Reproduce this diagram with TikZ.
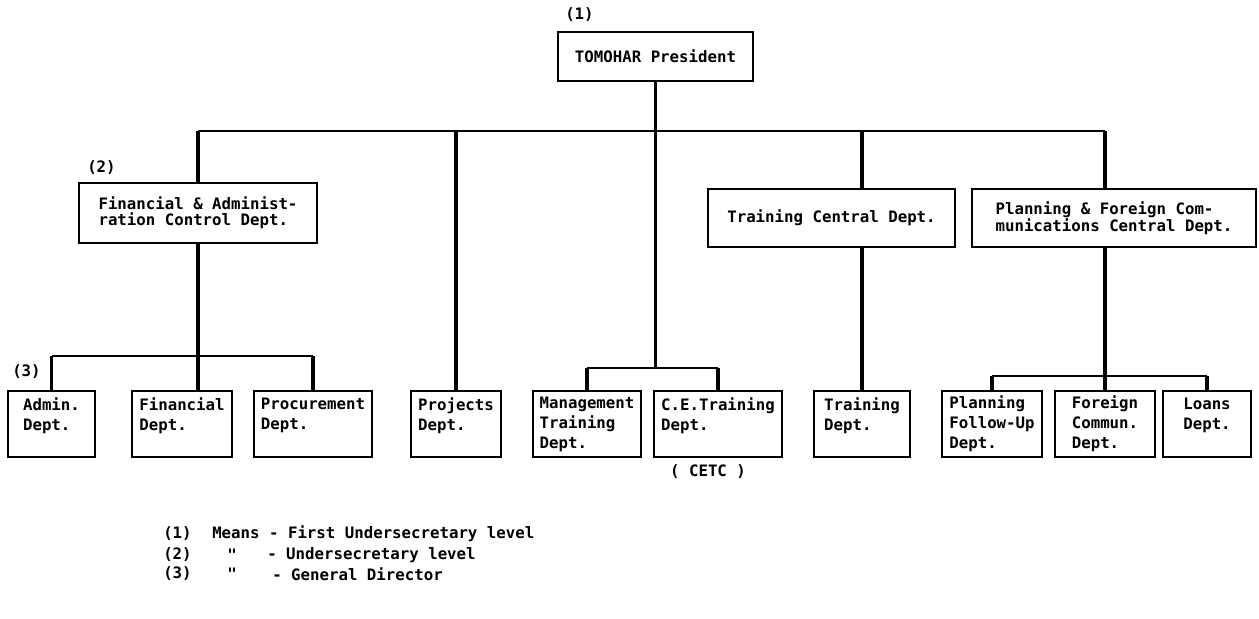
\documentclass[tikz,border=0pt]{standalone}
\usepackage{fontspec}
\newfontfamily\typerfont{DejaVu Sans Mono}
\tikzset{
  dept/.style={draw, line width=1.4pt, fill=white, inner sep=2pt, align=left,
    font=\typerfont\bfseries\fontsize{11.8}{12}\selectfont},
  unit/.style={dept, minimum height=49.5pt,
    font=\typerfont\bfseries\fontsize{11.8}{15}\selectfont},
  lvl/.style={anchor=west, inner sep=0pt, font=\typerfont\bfseries\fontsize{11.8}{12}\selectfont},
  link/.style={line width=2.4pt},
  bus/.style={line width=1.3pt},
}
\begin{document}
\begin{tikzpicture}[x=0.75pt,y=0.75pt,yscale=-1,xscale=1]
\useasboundingbox (0,0) rectangle (1259,618);
% upper levels
\draw (655.5,56.5) node [dept, minimum width=146.25pt, minimum height=36.75pt] (pres) {TOMOHAR President};
\draw (198,213) node [dept, minimum width=178.5pt, minimum height=45pt] (fin) {Financial \& Administ-\\ration Control Dept.};
\draw (831.5,218) node [dept, minimum width=185.25pt, minimum height=43.5pt] (trc) {Training Central Dept.};
\draw (1114,218) node [dept, minimum width=213pt, minimum height=43.5pt] (plc) {Planning \& Foreign Com-\\munications Central Dept.};
% departments
\draw (51.5,424) node [unit, minimum width=65.25pt] (admin) {Admin.\\Dept.\\\mbox{}};
\draw (182,424) node [unit, minimum width=75pt] (findept) {Financial\\Dept.\\\mbox{}};
\draw (313,424) node [unit, minimum width=88.5pt] (procure) {Procurement\\Dept.\\\mbox{}};
\draw (456,424) node [unit, minimum width=67.5pt] (proj) {Projects\\Dept.\\\mbox{}};
\draw (587,424) node [unit, minimum width=81pt] (mgmt) {Management\\Training\\Dept.};
\draw (718,424) node [unit, minimum width=96pt] (ce) {C.E.Training\\Dept.\\\mbox{}};
\draw (862,424) node [unit, minimum width=72pt] (trdept) {Training\\Dept.\\\mbox{}};
\draw (992,424) node [unit, minimum width=75pt] (plfu) {Planning\\Follow-Up\\Dept.};
\draw (1105,424) node [unit, minimum width=75pt] (foreign) {Foreign\\Commun.\\Dept.};
\draw (1207,424) node [unit, minimum width=66pt] (loans) {Loans\\Dept.\\\mbox{}};
% level marks
\draw (565,15) node [lvl] (m1) {(1)};
\draw (87,168) node [lvl] (m2) {(2)};
\draw (12,372) node [lvl] (m3) {(3)};
\draw (708,472) node [lvl, anchor=center] (cetc) {( CETC )};
% connectors
\coordinate (topbus) at (655.5,131);
\coordinate (finbus) at (0,356);
\coordinate (mgtbus) at (0,368);
\coordinate (planbus) at (0,376);
\draw [bus] (fin.north |- topbus) -- (foreign.north |- topbus);
\draw [link] (fin.north |- topbus) -- (fin.north);
\draw [link] (fin.south) -- (fin.south |- findept.north);
\draw [bus] (admin.north |- finbus) -- (procure.north |- finbus);
\draw [link] (admin.north |- finbus) -- (admin.north);
\draw [link] (procure.north |- finbus) -- (procure.north);
\draw [link] (proj.north |- topbus) -- (proj.north);
\draw [link] (pres.south) -- (pres.south |- mgtbus);
\draw [bus] (mgmt.north |- mgtbus) -- (ce.north |- mgtbus);
\draw [link] (mgmt.north |- mgtbus) -- (mgmt.north);
\draw [link] (ce.north |- mgtbus) -- (ce.north);
\draw [link] (trdept.north |- topbus) -- (trdept.north |- trc.north);
\draw [link] (trdept.north |- trc.south) -- (trdept.north);
\draw [link] (foreign.north |- topbus) -- (foreign.north |- plc.north);
\draw [link] (foreign.north |- plc.south) -- (foreign.north);
\draw [bus] (plfu.north |- planbus) -- (loans.north |- planbus);
\draw [link] (plfu.north |- planbus) -- (plfu.north);
\draw [link] (loans.north |- planbus) -- (loans.north);
% legend
\draw (163,534) node [lvl] (k1) {(1)};
\draw (163,555) node [lvl] (k2) {(2)};
\draw (163,574) node [lvl] (k3) {(3)};
\draw (232,555) node [lvl, anchor=center] (d2) {"};
\draw (232,574) node [lvl, anchor=center] (d3) {"};
\draw (212,534) node [lvl] (t1) {Means - First Undersecretary level};
\draw (267,555) node [lvl] (t2) {- Undersecretary level};
\draw (272,574) node [lvl] (t3) {- General Director};
\end{tikzpicture}
\end{document}
